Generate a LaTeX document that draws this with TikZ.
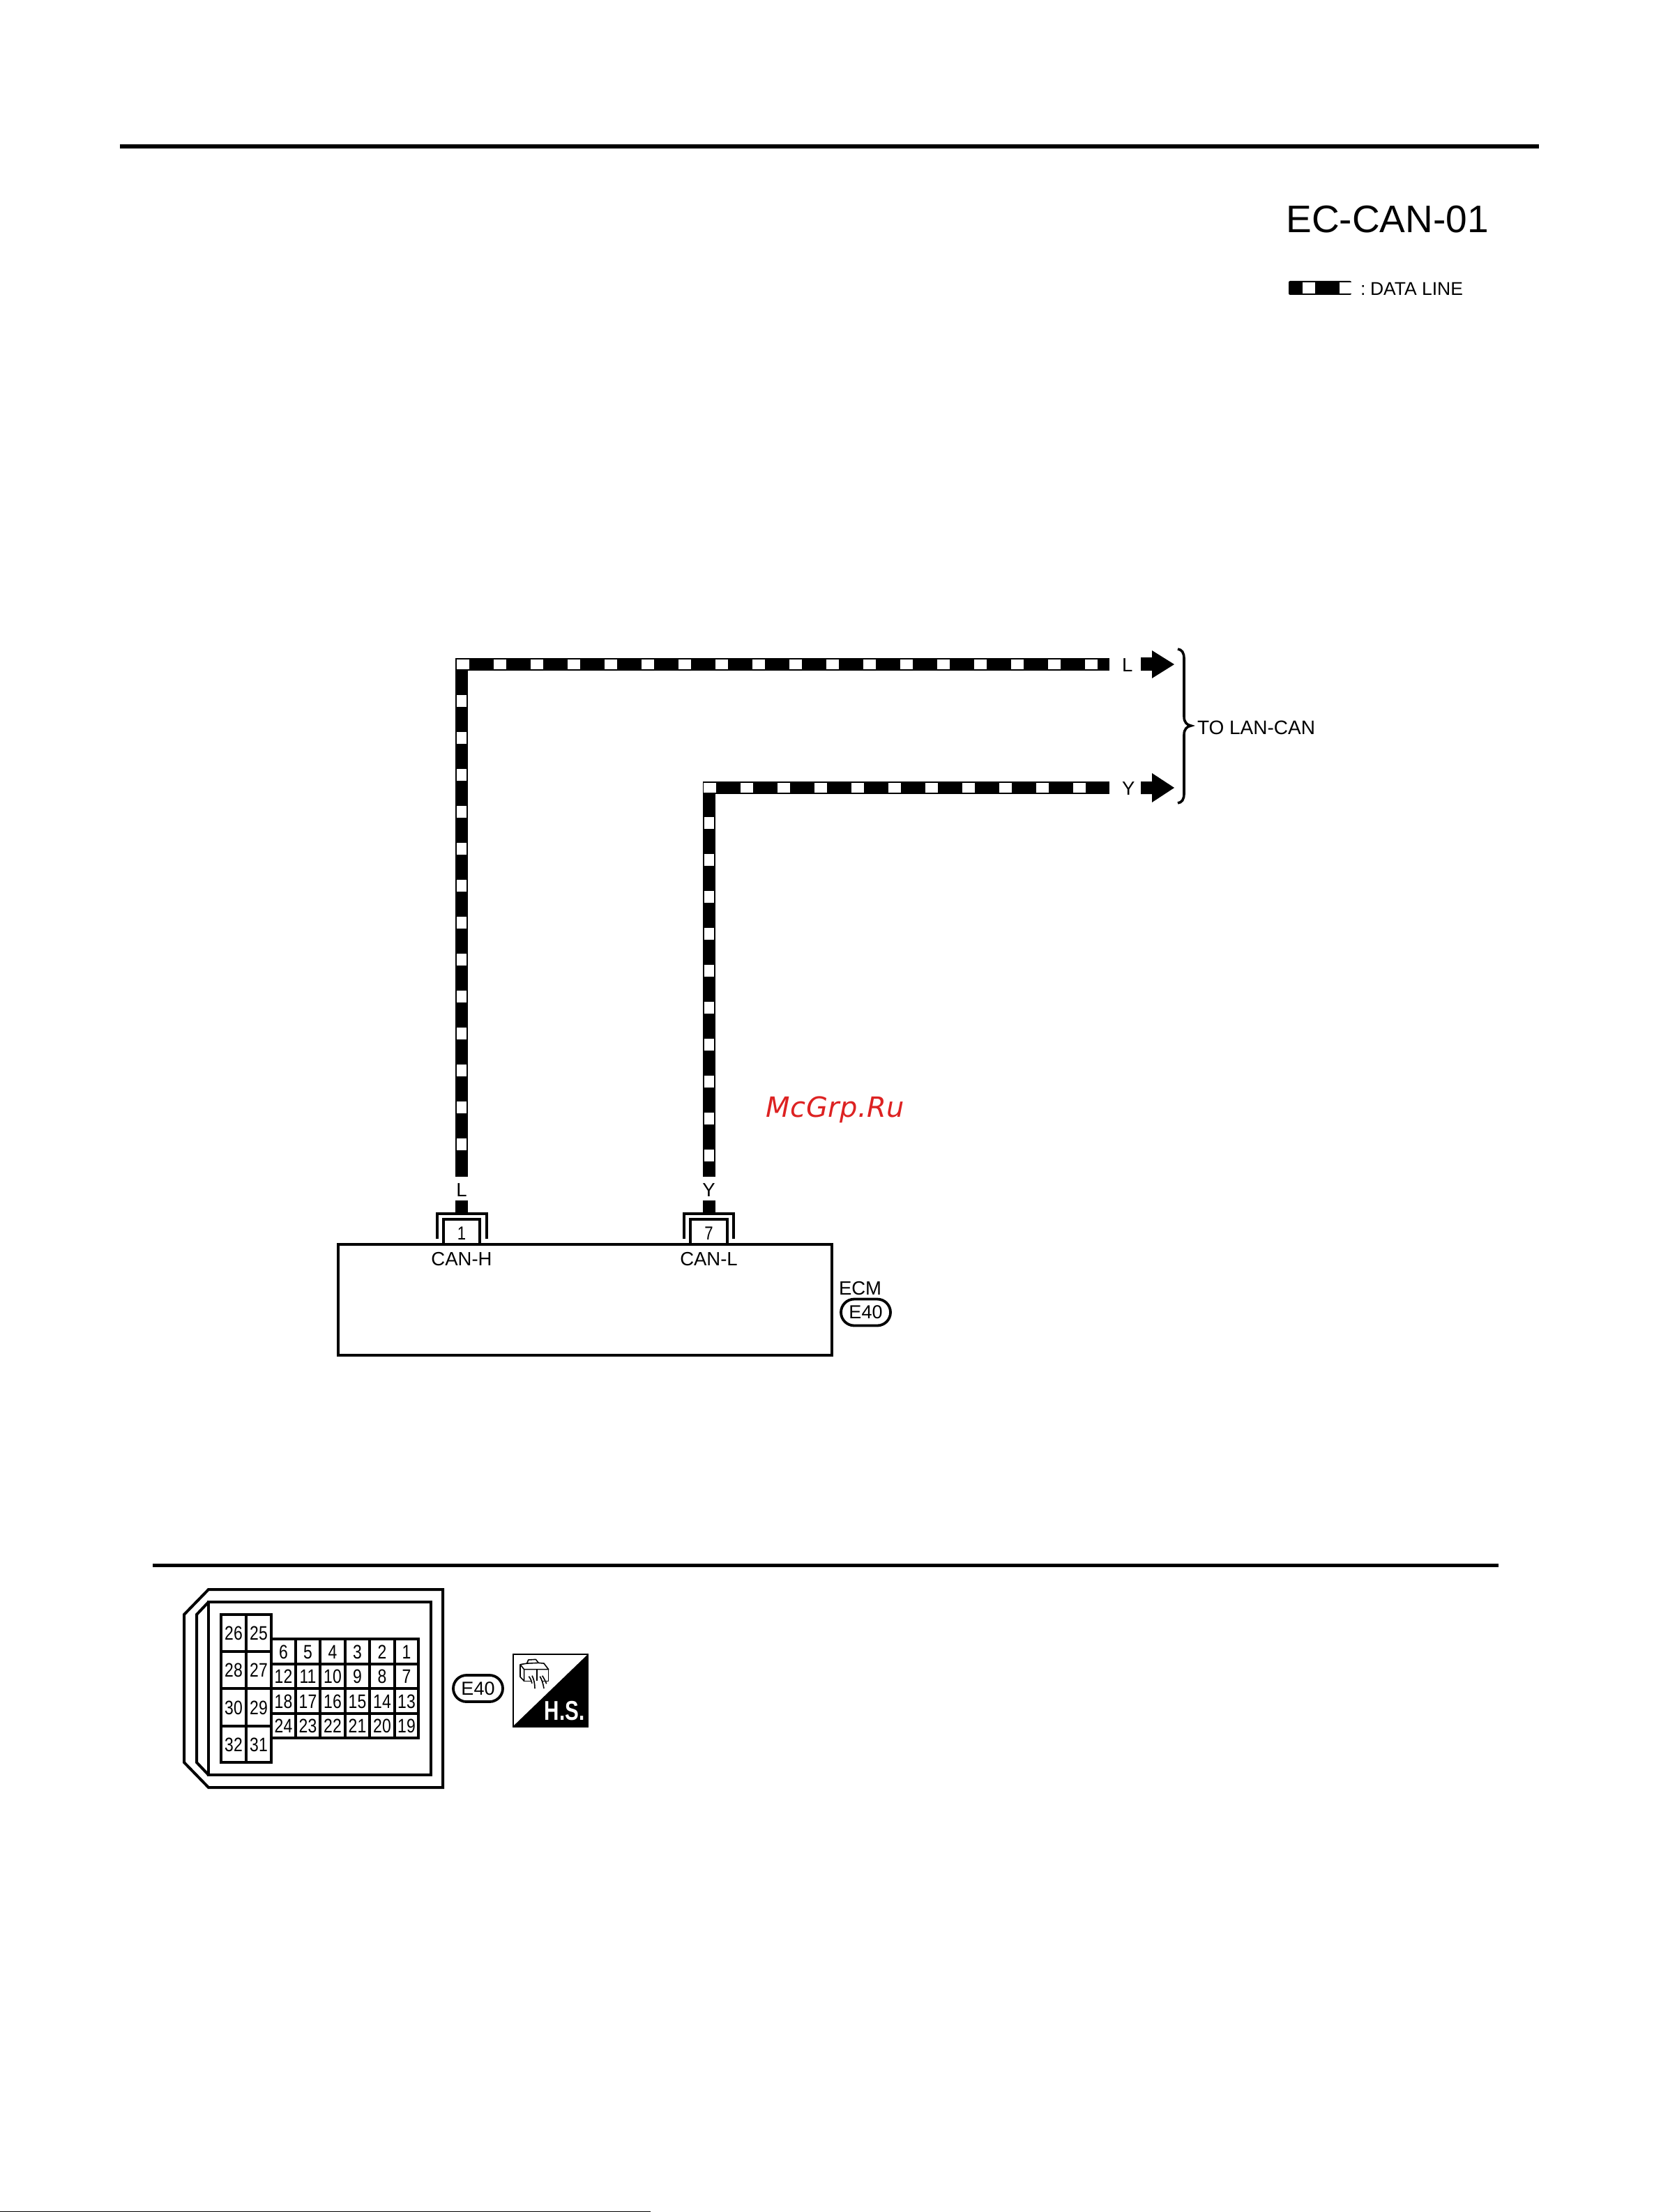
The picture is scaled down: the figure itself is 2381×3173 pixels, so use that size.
\documentclass[tikz,border=0pt]{standalone}
\usepackage{fontspec}
\usetikzlibrary{shapes.misc}
\setmainfont{Liberation Sans}
\newfontfamily\narf[FakeStretch=0.82]{Liberation Sans}
\newfontfamily\hsf[FakeStretch=0.76]{Liberation Sans}
\newfontfamily\wmf[LetterSpace=1]{DejaVu Sans}
\newcommand{\fpx}[1]{\fontsize{\fpeval{#1*0.24}pt}{\fpeval{#1*0.28}pt}\selectfont}
\def\px{0.24pt}
\definecolor{wmred}{HTML}{DD2222}
\tikzset{
  wireblack/.style={line width=18*\px,black,line cap=butt,line join=miter},
  wirewhiteh/.style={line width=14*\px,white,dash pattern=on 18*\px off 35*\px},
  wirewhitev/.style={line width=14*\px,white,dash pattern=on 17*\px off 36*\px},
  lbl/.style={inner sep=0pt,outer sep=0pt,anchor=base,font=\fpx{27.5}},
  lblw/.style={inner sep=0pt,outer sep=0pt,anchor=base west,font=\fpx{27.5}},
  pin/.style={inner sep=0pt,outer sep=0pt,anchor=base,font=\narf\fpx{27}},
  thick px/.style={line width=4*\px,line join=miter},
  badge/.style={draw,rounded rectangle,line width=3.8*\px,inner sep=0pt,outer sep=0pt,
     minimum width=71*\px,minimum height=38*\px,font=\fpx{27}},
  gridcell/.style={draw,line width=3.6*\px,inner sep=0pt,outer sep=0pt,font=\narf\fpx{28},
     text height=20*\px,text depth=0pt},
  rulebar/.style={line width=6*\px,black},
}
\newcommand{\gcell}[5]{\node[gridcell,minimum width={(#4-#2)*\px},minimum height={(#5-#3)*\px}] (c#1) at ({(#2+#4)/2},{(#3+#5)/2}) {#1};}
\begin{document}
\begin{tikzpicture}[x=0.24pt,y=-0.24pt]
\fill[white] (0,0) rectangle (2381,3173);
\useasboundingbox (0,0) rectangle (2381,3173);

% rules
\coordinate (r1a) at (172,210); \coordinate (r1b) at (2207,210);
\coordinate (r2a) at (219,2245.5); \coordinate (r2b) at (2149,2245.5);
\draw[rulebar] (r1a) -- (r1b);
\draw[rulebar,line width=5*\px] (r2a) -- (r2b);
\fill[black] (0,3172) rectangle (933,3173);

% title and legend
\node[inner sep=0pt,anchor=base,font=\fpx{55}] (title) at (1989.5,334) {EC-CAN-01};
\fill[black,rounded corners=0.5pt] (1848,403) rectangle (1938,423);
\fill[white] (1868,405.5) rectangle (1886,421);
\fill[white] (1921,405.5) rectangle (1939,421);
\node[lblw,font=\fpx{26.5}] (legend) at (1951,424) {:\kern1.6pt DATA LINE};

% wire coordinates
\coordinate (la) at (662,1688); \coordinate (lc) at (662,952.5); \coordinate (lb) at (1591,952.5);
\coordinate (ya) at (1016.5,1688); \coordinate (yc) at (1016.5,1130); \coordinate (yb) at (1591,1130);

% L wire
\draw[wireblack] (la) -- (lc) -- (lb);
\draw[wirewhiteh] (655,952.5) -- (lb);
\draw[wirewhitev] (662,997) -- (662,1652);
% Y wire
\draw[wireblack] (ya) -- (yc) -- (yb);
\draw[wirewhiteh] (1009,1130) -- (yb);
\draw[wirewhitev] (1016.5,1172) -- (1016.5,1670);

% wire end labels and arrows
\node[lblw] (lr) at (1609,963) {L};
\node[lblw] (yr) at (1609,1140) {Y};
\fill[black] (1636,943) -- (1652,943) -- (1652,933) -- (1684,953) -- (1652,973) -- (1652,962) -- (1636,962) -- cycle;
\fill[black] (1636,1121) -- (1652,1121) -- (1652,1109) -- (1684,1130) -- (1652,1151) -- (1652,1139) -- (1636,1139) -- cycle;

% brace
\draw[line width=3.6*\px] (1689,931) .. controls (1695,932) and (1698,936) .. (1698,945) -- (1698,1028)
  .. controls (1698,1036) and (1702,1040) .. (1708,1041)
  .. controls (1702,1042) and (1698,1046) .. (1698,1054) -- (1698,1138)
  .. controls (1698,1147) and (1695,1151) .. (1689,1152);
\node[lblw,font=\fpx{28}] (tolan) at (1717,1053) {TO LAN-CAN};

% ECM box
\node[draw,line width=4*\px,inner sep=0pt,outer sep=0pt,minimum width=708*\px,minimum height=159*\px] (ecm) at (839,1864.5) {};

% pins
\node[lbl] (wl) at (662,1716) {L};
\node[lbl] (wy) at (1016.5,1716) {Y};
\coordinate (s1a) at (662,1722); \coordinate (s1b) at (662,1739);
\coordinate (s2a) at (1016.5,1722); \coordinate (s2b) at (1016.5,1739);
\draw[wireblack] (s1a) -- (s1b);
\draw[wireblack] (s2a) -- (s2b);
\draw[thick px] (627,1777) -- (627,1741) -- (698,1741) -- (698,1777);
\draw[thick px] (636,1785) -- (636,1749) -- (688,1749) -- (688,1785);
\draw[thick px] (981,1777) -- (981,1741) -- (1052,1741) -- (1052,1777);
\draw[thick px] (990,1785) -- (990,1749) -- (1043,1749) -- (1043,1785);
\node[pin] (p1) at (662,1778) {1};
\node[pin] (p7) at (1016.5,1778) {7};
\node[lbl] (canh) at (662,1815) {CAN-H};
\node[lbl] (canl) at (1016.5,1815) {CAN-L};
\node[lblw] (ecmt) at (1203,1857) {ECM};
\node[badge] (e40a) at (1241.5,1882.5) {E40};

% connector outline
\draw[thick px] (299,2280) -- (635,2280) -- (635,2564) -- (299,2564) -- (264,2528) -- (264,2316) -- cycle;
\draw[thick px] (299,2298) -- (618,2298) -- (618,2546) -- (299,2546) -- cycle;
\draw[thick px] (299,2298) -- (282,2316) -- (282,2528) -- (299,2546);

% left block
\gcell{26}{317}{2316}{353}{2369}
\gcell{25}{353}{2316}{389}{2369}
\gcell{28}{317}{2369}{353}{2422}
\gcell{27}{353}{2369}{389}{2422}
\gcell{30}{317}{2422}{353}{2476}
\gcell{29}{353}{2422}{389}{2476}
\gcell{32}{317}{2476}{353}{2528}
\gcell{31}{353}{2476}{389}{2528}
% right block
\gcell{6}{389}{2351}{424}{2387}
\gcell{5}{424}{2351}{459}{2387}
\gcell{4}{459}{2351}{495}{2387}
\gcell{3}{495}{2351}{530}{2387}
\gcell{2}{530}{2351}{566}{2387}
\gcell{1}{566}{2351}{600}{2387}
\gcell{12}{389}{2387}{424}{2422}
\gcell{11}{424}{2387}{459}{2422}
\gcell{10}{459}{2387}{495}{2422}
\gcell{9}{495}{2387}{530}{2422}
\gcell{8}{530}{2387}{566}{2422}
\gcell{7}{566}{2387}{600}{2422}
\gcell{18}{389}{2422}{424}{2458}
\gcell{17}{424}{2422}{459}{2458}
\gcell{16}{459}{2422}{495}{2458}
\gcell{15}{495}{2422}{530}{2458}
\gcell{14}{530}{2422}{566}{2458}
\gcell{13}{566}{2422}{600}{2458}
\gcell{24}{389}{2458}{424}{2493}
\gcell{23}{424}{2458}{459}{2493}
\gcell{22}{459}{2458}{495}{2493}
\gcell{21}{495}{2458}{530}{2493}
\gcell{20}{530}{2458}{566}{2493}
\gcell{19}{566}{2458}{600}{2493}

\node[badge] (e40b) at (685.5,2422) {E40};

% H.S. icon
\draw[line width=2*\px] (736,2373) rectangle (843,2477);
\fill[black] (843,2373) -- (843,2477) -- (735,2477) -- cycle;
\node[inner sep=0pt,anchor=base,white,font=\hsf\bfseries\fpx{39}] (hs) at (809.5,2467) {H.S.};
\begin{scope}[shift={(735,2372)},x=0.08pt,y=-0.08pt,line width=1.6*\px,line join=round]
  \draw (33,47) -- (62,42) -- (68,27) -- (100,25) -- (112,40) -- (135,42) -- (155,68) -- (50,68) -- cycle;
  \draw (62,42) -- (112,40);
  \draw (33,47) -- (33,100) -- (50,118) -- (50,68);
  \draw (155,68) -- (155,118) -- (125,118);
  \draw (50,118) -- (82,118);
  \draw (105,68) -- (105,118);
  \draw (70,98) .. controls (78,108) and (82,118) .. (84,128);
  \draw (84,95) .. controls (92,110) and (96,130) .. (96,150);
  \draw (118,98) .. controls (126,112) and (132,130) .. (135,150);
  \draw (128,95) .. controls (136,108) and (142,118) .. (146,130);
\end{scope}

% watermark
\node[inner sep=0pt,anchor=base west,text=wmred,font=\wmf\itshape\fpx{40}] (wm) at (1098,1602) {McGrp.Ru};
\end{tikzpicture}
\end{document}
